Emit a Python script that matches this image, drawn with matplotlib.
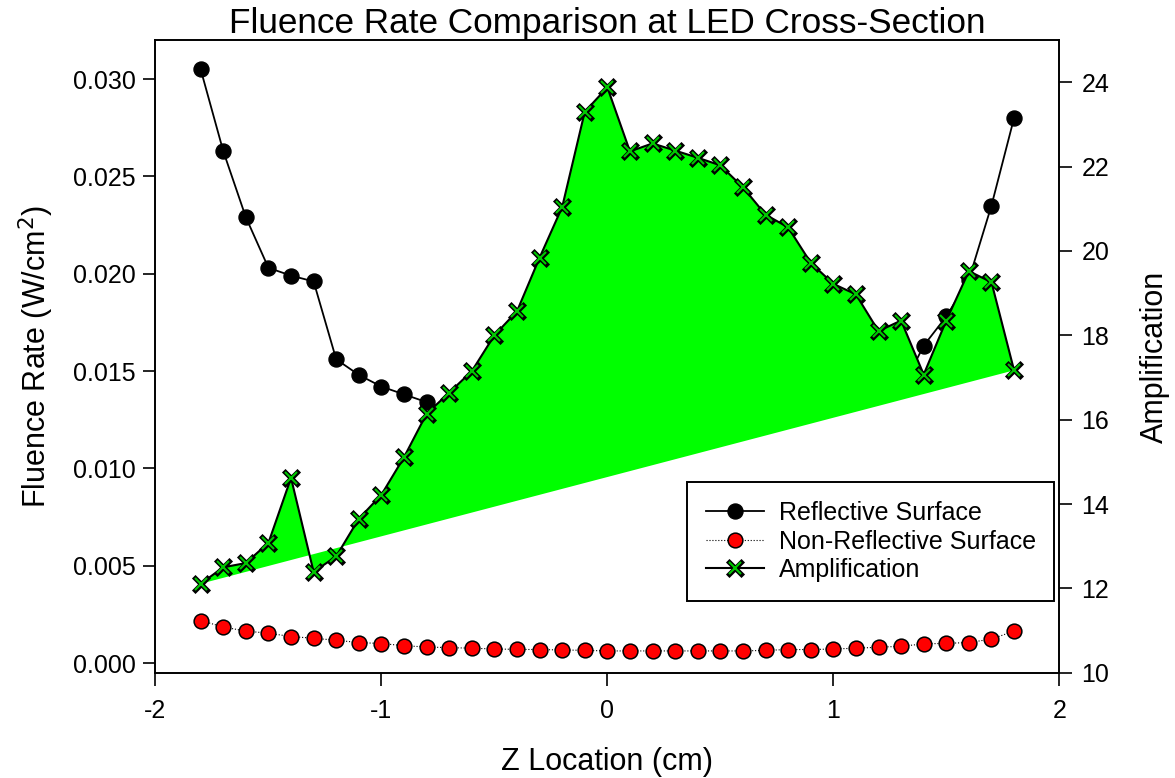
import matplotlib
matplotlib.use("Agg")
import matplotlib.pyplot as plt
from matplotlib.markers import MarkerStyle
from matplotlib.legend_handler import HandlerTuple

plt.rcParams['font.family'] = ['Liberation Sans', 'DejaVu Sans']
plt.rcParams['axes.unicode_minus'] = False

z_cm = [-1.8, -1.7, -1.6, -1.5, -1.4, -1.3, -1.2, -1.1, -1.0, -0.9, -0.8, -0.7,
        -0.6, -0.5, -0.4, -0.3, -0.2, -0.1, 0.0, 0.1, 0.2, 0.3, 0.4, 0.5, 0.6,
        0.7, 0.8, 0.9, 1.0, 1.1, 1.2, 1.3, 1.4, 1.5, 1.6, 1.7, 1.8]

reflective = [0.0305, 0.0263, 0.0229, 0.0203, 0.0199, 0.0196, 0.0156, 0.0148,
              0.0142, 0.0138, 0.0134, 0.0130, 0.0129, 0.0129, 0.0131, 0.0137,
              0.0140, 0.0152, 0.0147, 0.0138, 0.0139, 0.0138, 0.0137, 0.0136,
              0.0133, 0.0136, 0.0141, 0.0136, 0.0138, 0.0143, 0.0146, 0.0140,
              0.0163, 0.0178, 0.0197, 0.0235, 0.0280]

non_reflective = [0.00218, 0.00185, 0.00164, 0.00153, 0.00136, 0.00127, 0.00117,
                  0.00105, 0.00100, 0.00089, 0.00082, 0.00079, 0.00076, 0.00072,
                  0.00070, 0.00069, 0.00067, 0.00065, 0.00062, 0.00062, 0.00062,
                  0.00062, 0.00062, 0.00062, 0.00062, 0.00065, 0.00069, 0.00069,
                  0.00072, 0.00076, 0.00081, 0.00086, 0.00098, 0.00101, 0.00105,
                  0.00123, 0.00164]

amplification = [12.11, 12.50, 12.60, 13.08, 14.62, 12.39, 12.76, 13.65, 14.22,
                 15.11, 16.14, 16.64, 17.15, 18.00, 18.57, 19.84, 21.04, 23.30,
                 23.88, 22.36, 22.55, 22.38, 22.21, 22.03, 21.51, 20.86, 20.56,
                 19.72, 19.22, 18.97, 18.10, 18.35, 17.07, 18.35, 19.52, 19.26,
                 17.17]

x_ticks = [-2, -1, 0, 1, 2]
left_ticks = [0.000, 0.005, 0.010, 0.015, 0.020, 0.025, 0.030]
right_ticks = [10, 12, 14, 16, 18, 20, 22, 24]

fig = plt.figure(figsize=(11.75, 7.78), dpi=100)
ax = fig.add_axes([0.1323, 0.1353, 0.7692, 0.8132])
ax2 = ax.twinx()

l_ref, = ax.plot(z_cm, reflective, color='black', lw=1.3, marker='o', ms=10.8,
                 mfc='black', mec='black', zorder=3, label='Reflective Surface')
l_non, = ax.plot(z_cm, non_reflective, color='black', lw=0.8, ls=':', marker='o',
                 ms=10.6, mfc='#ff0000', mec='black', mew=1.1, zorder=3,
                 label='Non-Reflective Surface')

ax2.fill(z_cm, amplification, color='#00ff00', lw=0, zorder=1)
l_amp, = ax2.plot(z_cm, amplification, color='black', lw=1.5, zorder=2)
mk_black = MarkerStyle('x', capstyle='projecting')
m_b, = ax2.plot(z_cm, amplification, ls='none', marker=mk_black, ms=8.6,
                mec='black', mew=3.6, zorder=3)
m_g, = ax2.plot(z_cm, amplification, ls='none', marker='x', ms=8.6,
                mec='#00c800', mew=1.5, zorder=4)

ax.set_xlim(-2, 2)
ax.set_ylim(-0.0005, 0.032)
ax2.set_ylim(10, 25)
ax.set_xticks(x_ticks)
ax.set_xticklabels([str(t) for t in x_ticks])
ax.set_yticks(left_ticks)
ax.set_yticklabels(['%.3f' % t for t in left_ticks])
ax2.set_yticks(right_ticks)

for a in (ax, ax2):
    for s in a.spines.values():
        s.set_linewidth(1.2)
    a.tick_params(direction='out', length=9, width=1.2, labelsize=18, pad=5)
ax.tick_params(top=False, right=False)
ax.tick_params(axis='x', pad=10)
ax2.tick_params(axis='y', pad=7)

ax.set_xlabel('Z Location (cm)', fontsize=22, labelpad=17)
ax.set_ylabel('Fluence Rate (W/cm$^2$)', fontsize=22, labelpad=12)
ax2.set_ylabel('Amplification', fontsize=22, labelpad=22)
ax.set_title('Fluence Rate Comparison at LED Cross-Section', fontsize=25.3, pad=5)

leg = ax2.legend([l_ref, l_non, (l_amp, m_b, m_g)],
                 ['Reflective Surface', 'Non-Reflective Surface', 'Amplification'],
                 handler_map={tuple: HandlerTuple(ndivide=1)},
                 loc='upper left', bbox_to_anchor=(0.5884, 0.3009),
                 borderaxespad=0, fontsize=18, frameon=True, fancybox=False,
                 edgecolor='black', framealpha=1, handlelength=2.3,
                 handletextpad=0.6, labelspacing=0.18, borderpad=0.75)
leg.get_frame().set_linewidth(1.4)
leg.set_zorder(10)

fig.savefig('out.png', dpi=100)
